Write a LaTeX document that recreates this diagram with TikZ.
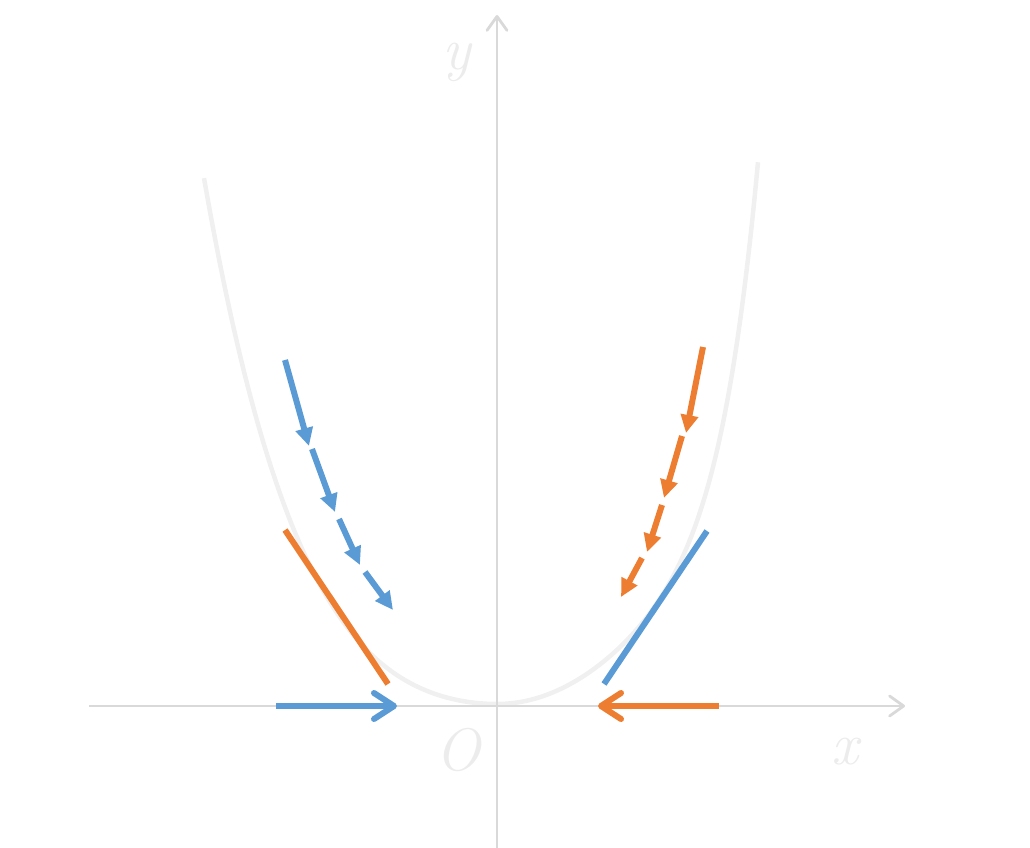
\documentclass[tikz,border=0pt]{standalone}
\usepackage{fontspec}
\usetikzlibrary{arrows.meta}
\definecolor{gdblue}{RGB}{91,155,213}
\definecolor{gdorange}{RGB}{237,125,49}
\definecolor{axisgray}{RGB}{217,217,217}
\definecolor{curvegray}{RGB}{240,240,240}
\definecolor{labelgray}{RGB}{236,236,236}

\begin{document}
\begin{tikzpicture}[x=1pt, y=-1pt,
    axis/.style={-{Straight Barb[length=14pt, width=20pt, round]}, line width=2.8pt, draw=axisgray},
    curve/.style={line width=4.5pt, draw=curvegray},
    stepline/.style={-{Triangle[length=18pt, width=17pt]}, line width=6pt},
    pushline/.style={-{Straight Barb[length=20pt, width=26pt, round]}, line width=6pt},
    tangent/.style={line width=6pt},
    axislabel/.style={font=\fontsize{60}{64}\selectfont\itshape, text=labelgray, inner sep=0pt}
]
\useasboundingbox (0,0) rectangle (1030,848);

% === Layout constants ===
\def\ox{497}
\def\oy{704}

% === Curve (steeper on the right) ===
\draw[curve]
    plot[domain=-2.93:0, samples=80, smooth]
        ({\ox+100*\x}, {\oy-(24.6*\x*\x+4.27*\x*\x*\x*\x)})
    -- plot[domain=0:2.61, samples=80, smooth]
        ({\ox+100*\x}, {\oy-(37.2*\x*\x+0.134*\x*\x*\x*\x*\x*\x*\x*\x)});

% === Axes ===
\coordinate (xl) at (89,706);
\coordinate (xr) at (905,706);
\coordinate (yb) at (497,848);
\coordinate (yt) at (497,15);
\draw[axis] (xl) -- (xr);
\draw[axis] (yb) -- (yt);

% === Axis labels ===
\node[axislabel] (ylab) at (457,62) {y};
\node[axislabel] (olab) at (458,750) {O};
\node[axislabel] (xlab) at (845,752) {x};

% === Tangent lines ===
\coordinate (ta) at (285,530);
\coordinate (tb) at (388,684);
\coordinate (tc) at (707,531);
\coordinate (td) at (604,684);
\draw[tangent, gdorange] (ta) -- (tb);
\draw[tangent, gdblue] (tc) -- (td);

% === Steps down the left side ===
\coordinate (b0) at (285,360);
\coordinate (b1) at (309,446);
\coordinate (b2) at (312,449);
\coordinate (b3) at (335,512);
\coordinate (b4) at (339,519);
\coordinate (b5) at (360,565);
\coordinate (b6) at (365,572);
\coordinate (b7) at (393,610);
\foreach \i/\j in {0/1,2/3,4/5,6/7}
    \draw[stepline, gdblue] (b\i) -- (b\j);

% === Steps down the right side ===
\coordinate (r0) at (703,347);
\coordinate (r1) at (686,433);
\coordinate (r2) at (682,436);
\coordinate (r3) at (664,498);
\coordinate (r4) at (662,505);
\coordinate (r5) at (647,552);
\coordinate (r6) at (642,558);
\coordinate (r7) at (621,597);
\foreach \i/\j in {0/1,2/3,4/5,6/7}
    \draw[stepline, gdorange] (r\i) -- (r\j);

% === Horizontal pushes ===
\coordinate (pl) at (276,706);
\coordinate (pt) at (397,706);
\coordinate (ql) at (719,706);
\coordinate (qt) at (598,706);
\draw[pushline, gdblue] (pl) -- (pt);
\draw[pushline, gdorange] (ql) -- (qt);

\end{tikzpicture}
\end{document}
